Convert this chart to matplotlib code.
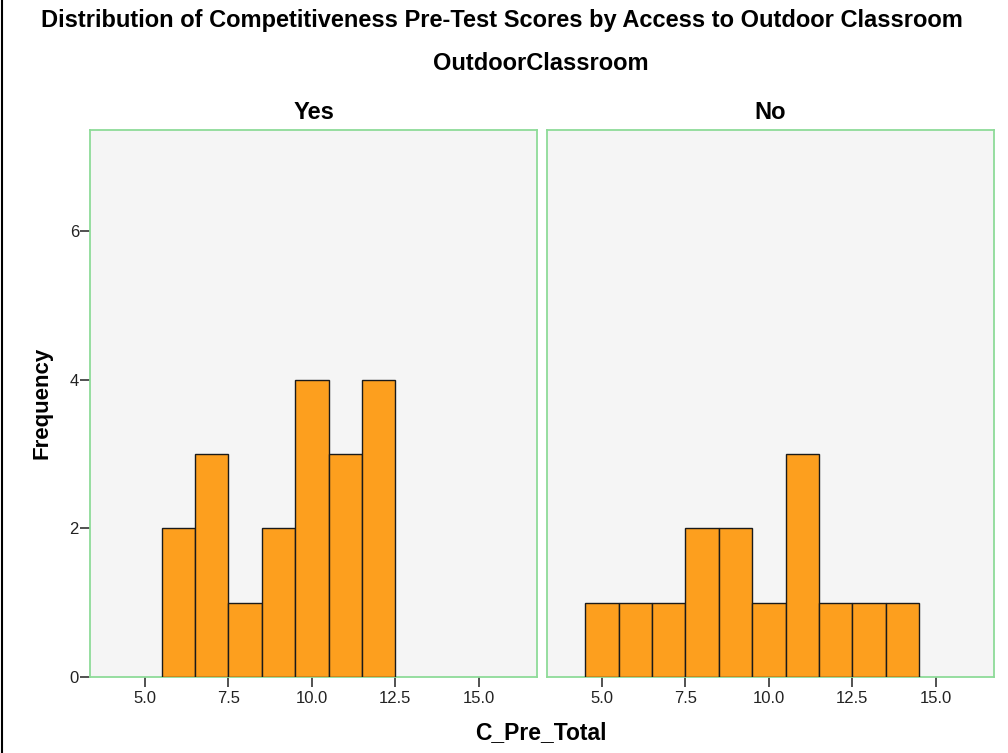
import numpy as np
import matplotlib.pyplot as plt
from matplotlib.lines import Line2D

# bin centres and counts
yes_centers = [6, 7, 8, 9, 10, 11, 12]
yes_counts = [2, 3, 1, 2, 4, 3, 4]
no_centers = [5, 6, 7, 8, 9, 10, 11, 12, 13, 14]
no_counts = [1, 1, 1, 2, 2, 1, 3, 1, 1, 1]
panel_labels = ["Yes", "No"]
x_ticks = [5.0, 7.5, 10.0, 12.5, 15.0]
y_ticks = [0, 2, 4, 6]

BAR = "#FD9F1E"
BORDER = "#8EDB98"
BG = "#F5F5F5"
SANS = ["Liberation Sans", "DejaVu Sans"]

fig = plt.figure(figsize=(10.08, 7.53), dpi=100)
H = 753.0
W = 1008.0

def make_axes(x0, x1):
    return fig.add_axes([x0 / W, 1 - 677 / H, (x1 - x0) / W, (677 - 130) / H])

ax1 = make_axes(90, 537)
ax2 = make_axes(547, 994)

for ax, centers, counts, label in [(ax1, yes_centers, yes_counts, panel_labels[0]),
                                   (ax2, no_centers, no_counts, panel_labels[1])]:
    ax.set_facecolor(BG)
    ax.bar(centers, counts, width=1.0, color=BAR, edgecolor="#1a1a1a", linewidth=1.0, zorder=3)
    ax.set_xlim(3.35, 16.75)
    ax.set_ylim(0, 7.36)
    for s in ax.spines.values():
        s.set_color(BORDER)
        s.set_linewidth(1.3)
    ax.set_xticks(x_ticks)
    ax.set_xticklabels([f"{t:.1f}" for t in x_ticks], family=SANS, fontsize=12, color="#222222")
    ax.tick_params(axis="x", direction="out", length=7, width=1.2, color="#333333", pad=3)
    ax.set_title(label, family=SANS, fontweight="bold", fontsize=17, pad=8)

ax1.set_yticks(y_ticks)
ax1.set_yticklabels([str(t) for t in y_ticks], family=SANS, fontsize=12, color="#222222")
ax1.tick_params(axis="y", direction="out", length=7, width=1.2, color="#333333", pad=1)
ax2.set_yticks([])

fig.text(502 / W, 1 - 20 / H, "Distribution of Competitiveness Pre-Test Scores by Access to Outdoor Classroom",
         ha="center", va="center", family=SANS, fontweight="bold", fontsize=17)
fig.text(541 / W, 1 - 63 / H, "OutdoorClassroom", ha="center", va="center",
         family=SANS, fontweight="bold", fontsize=17)
fig.text(541 / W, 1 - 733 / H, "C_Pre_Total", ha="center", va="center",
         family=SANS, fontweight="bold", fontsize=16.5)
fig.text(42 / W, 1 - 403 / H, "Frequency", ha="center", va="center", rotation=90,
         family=SANS, fontweight="bold", fontsize=16)

# left frame line of the output pane
fig.add_artist(Line2D([1.5 / W, 1.5 / W], [0, 1], transform=fig.transFigure, color="black", linewidth=1.5))

fig.savefig("out.png", dpi=100)
